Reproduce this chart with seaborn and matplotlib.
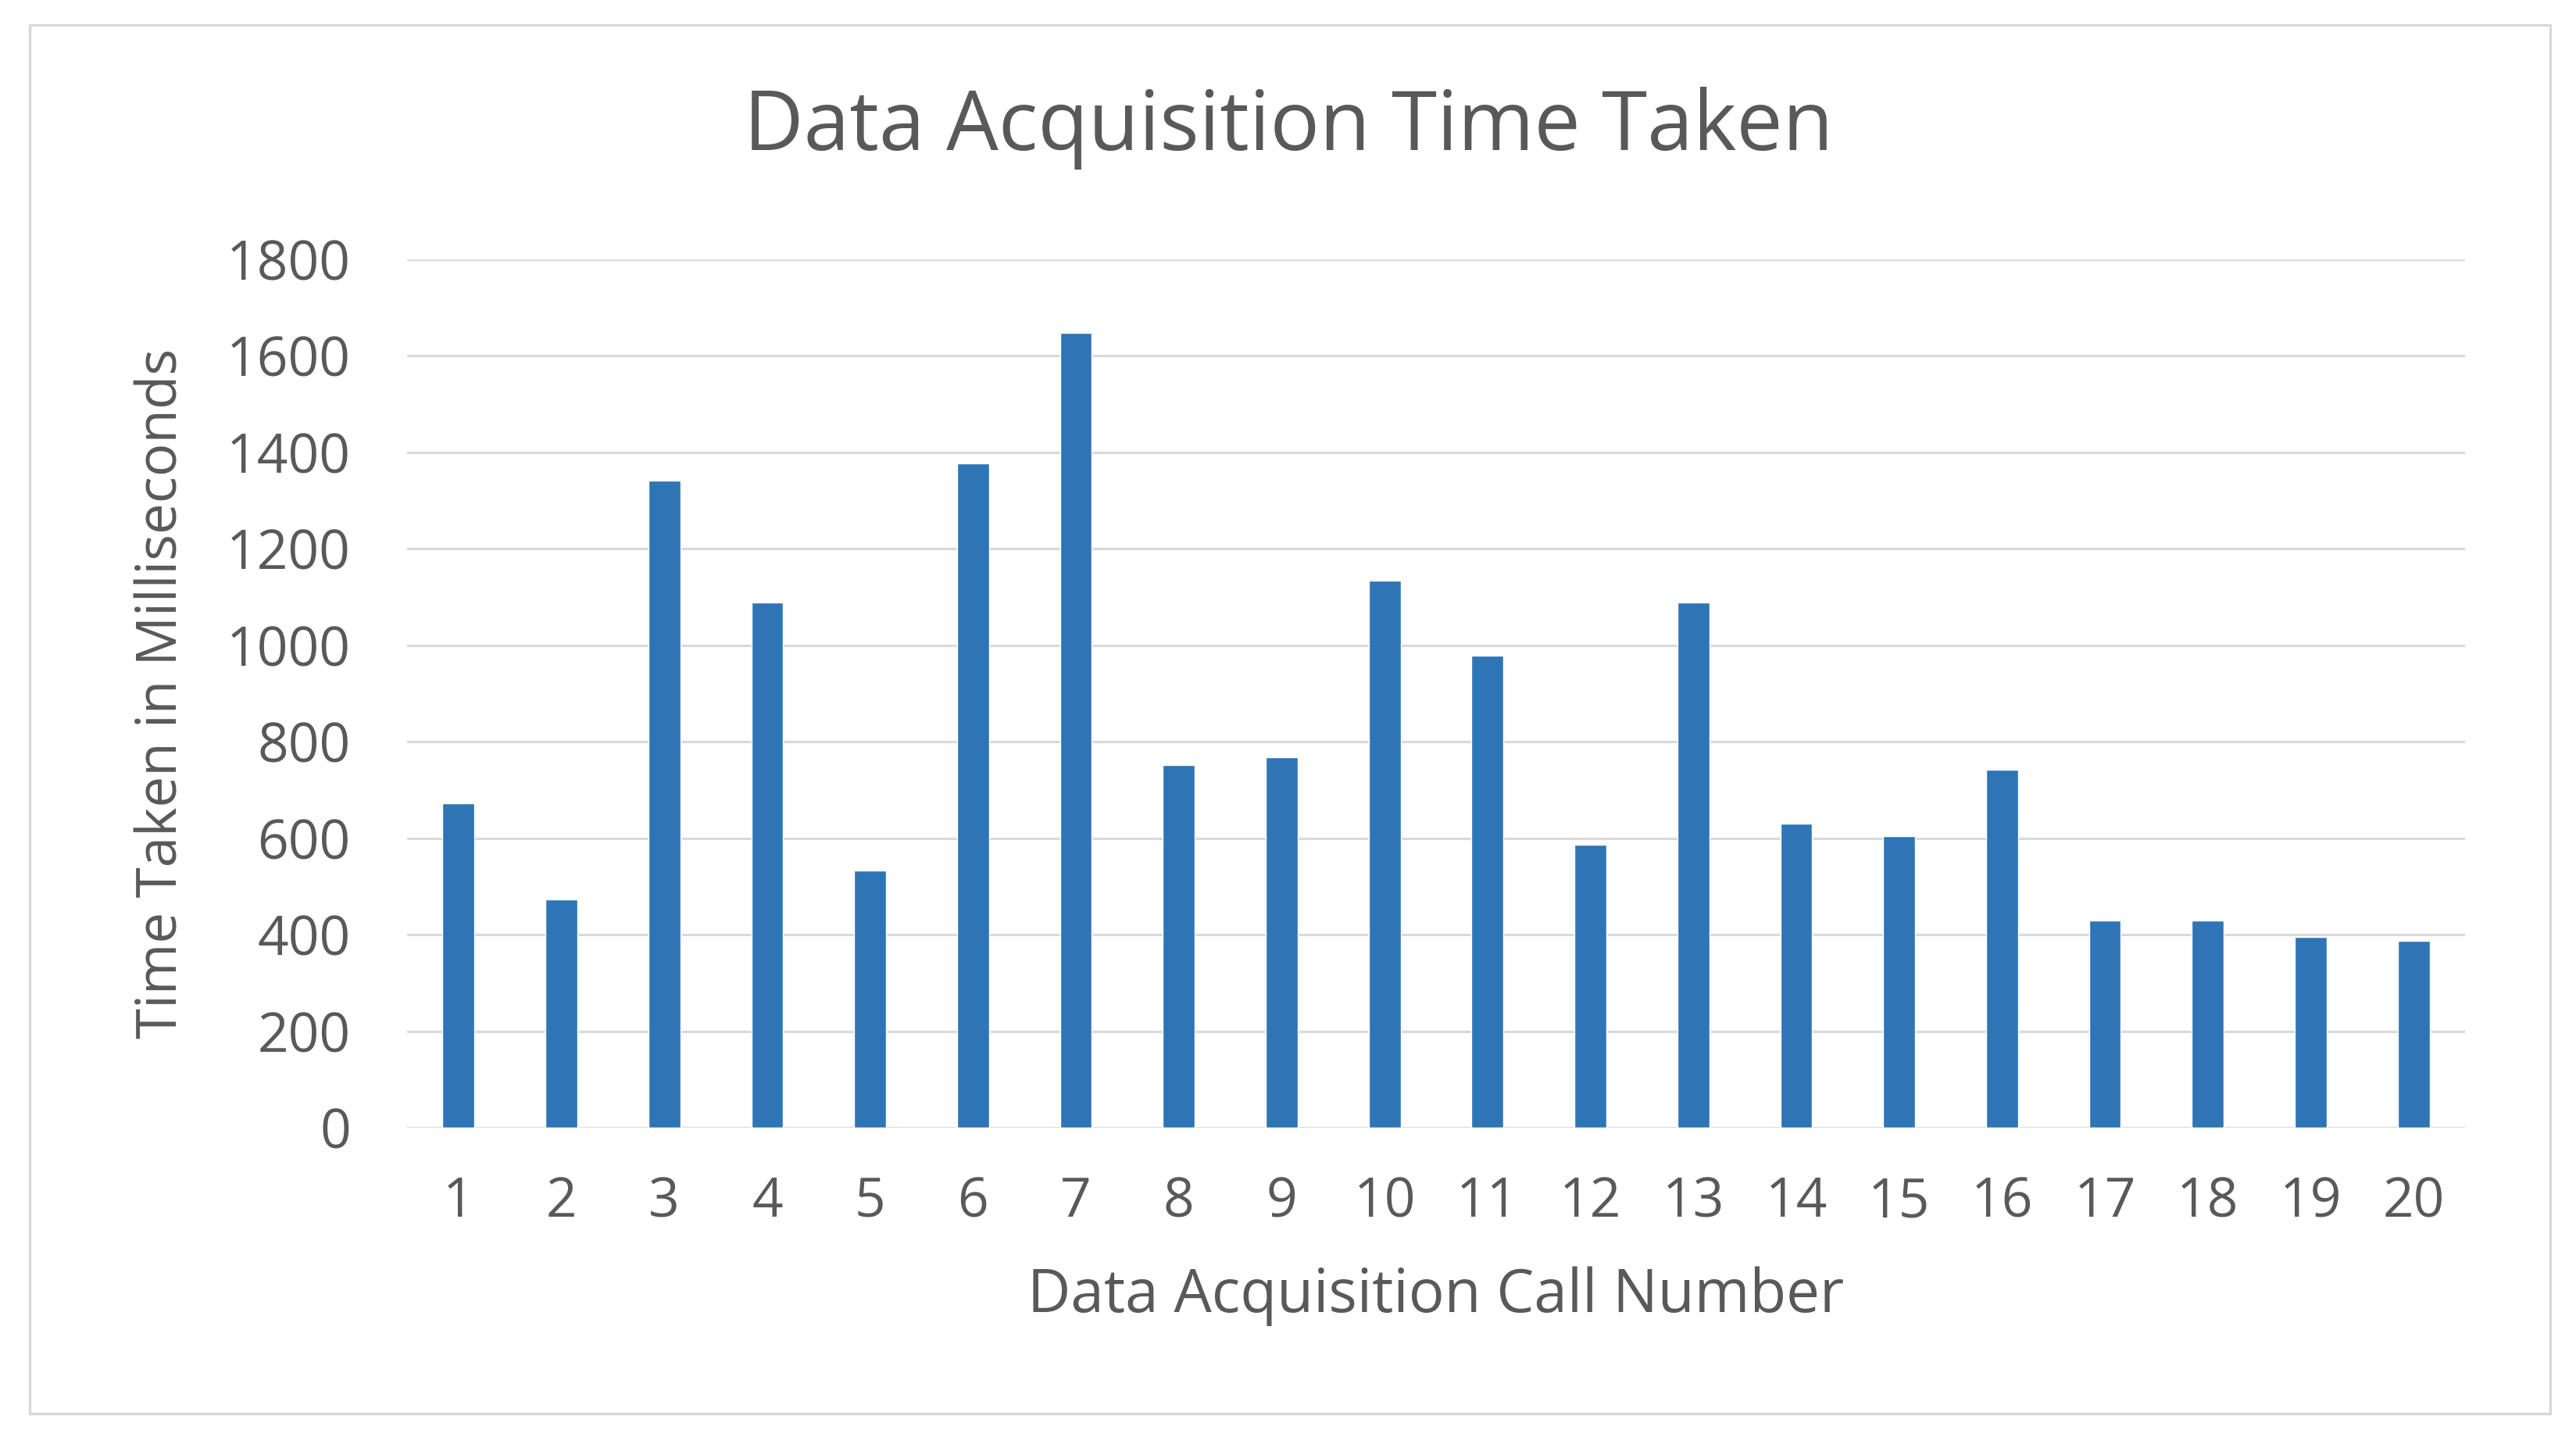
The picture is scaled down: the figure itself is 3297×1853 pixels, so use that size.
import matplotlib
matplotlib.use("Agg")
import matplotlib.pyplot as plt
import seaborn as sns
import pandas as pd
from matplotlib.patches import Rectangle

calls = [str(i) for i in range(1, 21)]
times = [673, 473, 1342, 1089, 533, 1377, 1647, 751, 768, 1134,
         978, 586, 1089, 630, 604, 742, 430, 430, 395, 387]
yticks = [0, 200, 400, 600, 800, 1000, 1200, 1400, 1600, 1800]

title = "Data Acquisition Time Taken"
xlabel = "Data Acquisition Call Number"
ylabel = "Time Taken in Milliseconds"

sns.set_theme(style="white")
plt.rcParams['font.family'] = ['Open Sans', 'DejaVu Sans']

W, H = 3298, 1853
fig = plt.figure(figsize=(W / 100, H / 100), dpi=100)
fig.patch.set_facecolor("white")

ax = fig.add_axes([521 / W, 1 - 1443 / H, (3155 - 521) / W, (1443 - 332) / H])

df = pd.DataFrame({"call": calls, "time": times})
sns.barplot(data=df, x="call", y="time", order=calls, color="#2E75B6",
            saturation=1, width=0.31, ax=ax, zorder=3)

ax.set_ylim(0, 1800)
ax.set_xlim(-0.5, 19.5)
ax.set_yticks(yticks)
ax.grid(axis="y", color="#D9D9D9", linewidth=2.2, zorder=0)
ax.set_axisbelow(True)
for s in ax.spines.values():
    s.set_visible(False)

txtc = "#595959"
ax.tick_params(axis="both", length=0, labelsize=50, labelcolor=txtc)
ax.tick_params(axis="x", pad=44)
ax.tick_params(axis="y", pad=52)

ax.set_xlabel(xlabel, fontsize=55, color=txtc)
ax.set_ylabel(ylabel, fontsize=51, color=txtc)
ax.xaxis.set_label_coords(0.5, -(1659 - 1443) / (1443 - 332))
ax.xaxis.label.set_va("center")
ax.yaxis.set_label_coords((208 - 521) / (3155 - 521), 0.5)
ax.yaxis.label.set_va("center")

fig.text(0.5, 1 - 164 / H, title, ha="center", va="center", fontsize=76, color=txtc)

fig.patches.append(Rectangle((38 / W, 1 - 1809 / H), (3264 - 38) / W, (1809 - 32) / H,
                             transform=fig.transFigure, fill=False,
                             edgecolor="#D9D9D9", linewidth=2.5))

fig.savefig("out.png", dpi=100, facecolor="white")
